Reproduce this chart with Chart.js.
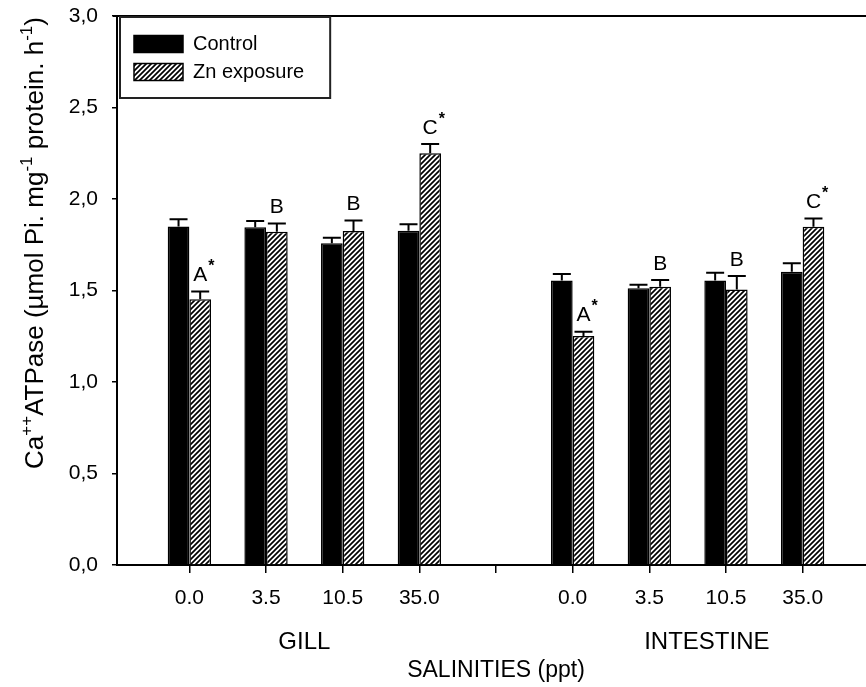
<!DOCTYPE html>
<html>
<head>
<meta charset="utf-8">
<script src="https://cdn.jsdelivr.net/npm/chart.js@4.4.0/dist/chart.umd.min.js"></script>
<style>
  html, body { margin: 0; padding: 0; background: #fff; overflow: hidden; }
  #wrap { width: 880px; height: 687px; }
</style>
</head>
<body>
<div id="wrap"><canvas id="atpaseChart"></canvas></div>
<script>
const tissues = ['GILL', 'INTESTINE'];
const salinities = ['0.0', '3.5', '10.5', '35.0'];
const controlMeans = [1.85, 1.845, 1.758, 1.827, 1.554, 1.512, 1.554, 1.603];
const controlSE = [0.04, 0.035, 0.03, 0.035, 0.036, 0.02, 0.043, 0.046];
const znMeans = [1.452, 1.821, 1.825, 2.25, 1.251, 1.521, 1.506, 1.849];
const znSE = [0.042, 0.045, 0.057, 0.05, 0.024, 0.036, 0.073, 0.045];
const znLetters = ['A*', 'B', 'B', 'C*', 'A*', 'B', 'B', 'C*'];
const yTicks = [0, 0.5, 1.0, 1.5, 2.0, 2.5, 3.0];
const yTitleParts = [
    ['Ca', false], ['++', true], ['ATPase (\u00b5mol Pi. mg', false], ['-1', true],
    [' protein. h', false], ['-1', true], [')', false]
];
const xTitle = 'SALINITIES (ppt)';

// one slot per salinity, an empty slot between the two tissues
const slots = [];
tissues.forEach((t, ti) => {
    salinities.forEach((s, si) => slots.push(ti * (salinities.length + 1) + si + 1));
});
const tickSlots = [];
for (let i = 1; i < tissues.length * (salinities.length + 1); i++) tickSlots.push(i);
const tickLabels = [...salinities, '', ...salinities];

const FONT = "'Liberation Sans', Arial, Helvetica, sans-serif";
Chart.defaults.font.family = FONT;
Chart.defaults.color = '#000';

const ctx = document.getElementById('atpaseChart').getContext('2d');

function makeHatch() {
    const c = document.createElement('canvas');
    c.width = 5; c.height = 5;
    const g = c.getContext('2d');
    g.fillStyle = '#fff';
    g.fillRect(0, 0, 5, 5);
    g.strokeStyle = '#000';
    g.lineWidth = 1.7;
    g.beginPath();
    g.moveTo(-1, 6); g.lineTo(6, -1);
    g.moveTo(-1, 1); g.lineTo(1, -1);
    g.moveTo(4, 6); g.lineTo(6, 4);
    g.stroke();
    return ctx.createPattern(c, 'repeat');
}

// legend sits inside the plot, pushed a bit away from the corner
const legendNudge = {
    id: 'legendNudge',
    afterLayout(chart) {
        chart.legend.left = chart.chartArea.left + 9;
        chart.legend.top = chart.chartArea.top + 10;
    }
};

const errorBars = {
    id: 'errorBars',
    afterDatasetsDraw(chart) {
        const c = chart.ctx;
        const yScale = chart.scales.y;
        c.save();
        c.strokeStyle = '#000';
        c.lineWidth = 2;
        chart.data.datasets.forEach((ds, di) => {
            const meta = chart.getDatasetMeta(di);
            meta.data.forEach((bar, j) => {
                const top = yScale.getPixelForValue(ds.data[j].y + ds.se[j]);
                c.beginPath();
                c.moveTo(bar.x, bar.y);
                c.lineTo(bar.x, top);
                c.moveTo(bar.x - 9, top);
                c.lineTo(bar.x + 9, top);
                c.stroke();
            });
        });
        c.restore();
    }
};

const letterMarks = {
    id: 'letterMarks',
    afterDatasetsDraw(chart) {
        const c = chart.ctx;
        const yScale = chart.scales.y;
        chart.data.datasets.forEach((ds, di) => {
            if (!ds.letters) return;
            const meta = chart.getDatasetMeta(di);
            meta.data.forEach((bar, j) => {
                const top = yScale.getPixelForValue(ds.data[j].y + ds.se[j]);
                const txt = ds.letters[j];
                const letter = txt.replace('*', '');
                c.save();
                c.fillStyle = '#000';
                c.textAlign = 'center';
                c.textBaseline = 'middle';
                c.font = '21px ' + FONT;
                const y = top - 16;
                c.fillText(letter, bar.x, y);
                if (txt.indexOf('*') >= 0) {
                    const w = c.measureText(letter).width;
                    c.font = 'bold 16px ' + FONT;
                    c.textAlign = 'left';
                    c.fillText('*', bar.x + w / 2 + 1, y - 9);
                }
                c.restore();
            });
        });
    }
};

const frameAndLabels = {
    id: 'frameAndLabels',
    afterDraw(chart, args, opts) {
        const c = chart.ctx;
        const area = chart.chartArea;
        const xScale = chart.scales.x;
        c.save();
        // top frame line
        c.strokeStyle = '#000';
        c.lineWidth = 2;
        c.beginPath();
        c.moveTo(area.left - 4, area.top);
        c.lineTo(area.right, area.top);
        c.stroke();

        // legend frame
        const hb = chart.legend.legendHitBoxes;
        const l = area.left + 3;
        const r = Math.max(...hb.map(h => h.left + h.width)) + 26;
        const b = hb[hb.length - 1].top + hb[hb.length - 1].height + 16;
        c.strokeStyle = '#222';
        c.lineWidth = 2;
        c.strokeRect(l, area.top + 1, r - l, b - area.top - 1);

        // tissue group labels
        c.fillStyle = '#000';
        c.font = '24px ' + FONT;
        c.textAlign = 'center';
        c.textBaseline = 'middle';
        tissues.forEach((t, i) => {
            c.fillText(t, xScale.getPixelForValue(opts.groupAt[i]), opts.groupY);
        });

        // y axis title with superscripts
        c.translate(opts.yTitleX, opts.yTitleY);
        c.rotate(-Math.PI / 2);
        c.textAlign = 'left';
        c.textBaseline = 'alphabetic';
        const big = '26px ' + FONT, small = '17px ' + FONT;
        let total = 0;
        yTitleParts.forEach(([t, sup]) => {
            c.font = sup ? small : big;
            total += c.measureText(t).width;
        });
        let x = -total / 2;
        yTitleParts.forEach(([t, sup]) => {
            c.font = sup ? small : big;
            c.fillText(t, x, sup ? -11 : 0);
            x += c.measureText(t).width;
        });
        c.restore();
    }
};

const hatch = makeHatch();

new Chart(ctx, {
    type: 'bar',
    data: {
        datasets: [{
            label: 'Control',
            data: slots.map((x, i) => ({ x: x, y: controlMeans[i] })),
            se: controlSE,
            backgroundColor: '#000',
            borderColor: '#000',
            borderWidth: 1.5,
            categoryPercentage: 0.565,
            barPercentage: 1
        }, {
            label: 'Zn exposure',
            data: slots.map((x, i) => ({ x: x, y: znMeans[i] })),
            se: znSE,
            letters: znLetters,
            backgroundColor: hatch,
            borderColor: '#000',
            borderWidth: 1.5,
            categoryPercentage: 0.565,
            barPercentage: 1
        }]
    },
    options: {
        responsive: true,
        maintainAspectRatio: false,
        animation: false,
        layout: { padding: { top: 16, right: 5, bottom: 0, left: 0 } },
        scales: {
            x: {
                type: 'linear',
                min: 0.056,
                max: 9.944,
                offset: false,
                afterBuildTicks: s => { s.ticks = tickSlots.map(v => ({ value: v })); },
                afterFit: s => { s.height = 122; },
                ticks: {
                    callback: (v, i) => tickLabels[i],
                    font: { size: 21 },
                    padding: 13,
                    maxRotation: 0,
                    autoSkip: false
                },
                grid: { offset: false, drawOnChartArea: false, drawTicks: true, tickLength: 8, color: '#000', lineWidth: 1.5 },
                border: { display: true, color: '#000', width: 2 },
                title: { display: true, text: xTitle, font: { size: 23 }, padding: { top: 0, bottom: 3 } }
            },
            y: {
                min: 0,
                max: 3,
                afterBuildTicks: s => { s.ticks = yTicks.map(v => ({ value: v })); },
                afterFit: s => { s.width = 117; s.paddingTop = 0; s.paddingBottom = 0; },
                ticks: {
                    callback: v => v.toFixed(1).replace('.', ','),
                    font: { size: 21 },
                    padding: 14
                },
                grid: { drawOnChartArea: false, drawTicks: true, tickLength: 5, color: '#000', lineWidth: 1.5 },
                border: { display: true, color: '#000', width: 2 }
            }
        },
        plugins: {
            legend: {
                position: 'chartArea',
                align: 'start',
                labels: { boxWidth: 49, boxHeight: 17, padding: 8, font: { size: 20 } }
            },
            tooltip: { enabled: false },
            frameAndLabels: { groupAt: [2.5, 7.75], groupY: 642, yTitleX: 43, yTitleY: 243 }
        }
    },
    plugins: [legendNudge, errorBars, letterMarks, frameAndLabels]
});
</script>
</body>
</html>
